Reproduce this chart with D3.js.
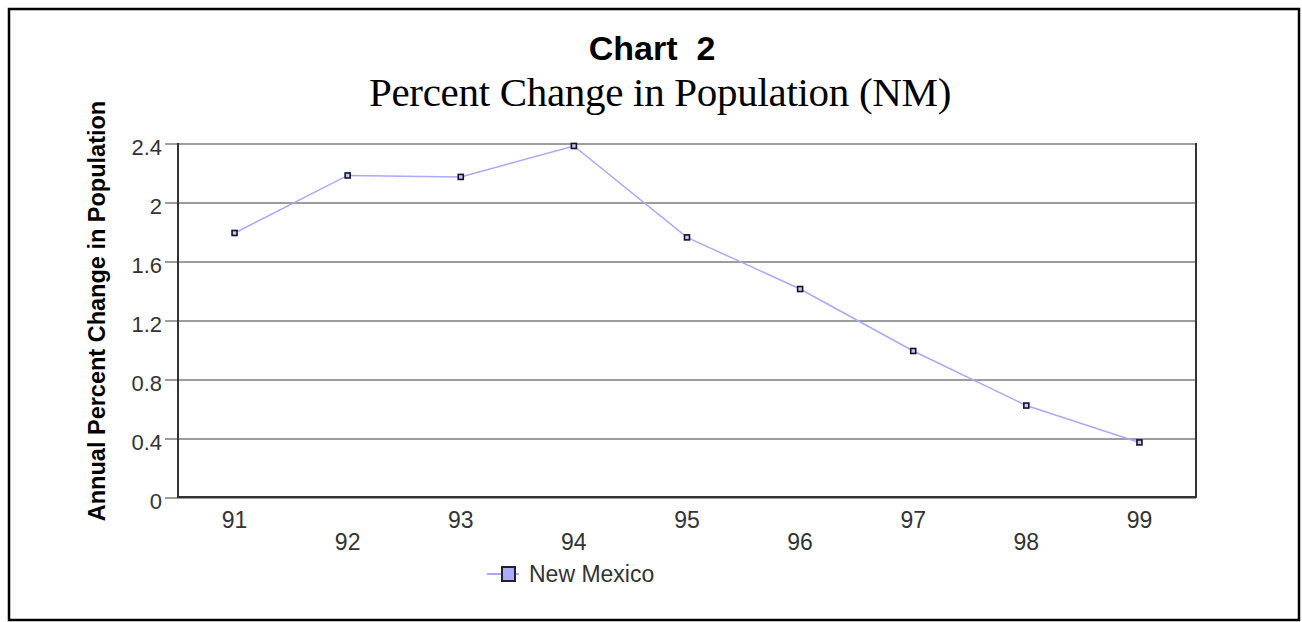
<!DOCTYPE html>
<meta charset="utf-8">
<style>
body { margin: 0; background: #fff; }
.grid line { stroke: #9c9c9c; stroke-width: 2px; shape-rendering: crispEdges; }
.grid path { display: none; }
.grid text { fill: #333; font: 22px "Liberation Sans", Arial, sans-serif; }
.frame { fill: none; stroke: #333; stroke-width: 2px; shape-rendering: crispEdges; }
.line { fill: none; stroke: #a8a8ff; stroke-width: 1.5px; }
.xlab { fill: #333; font: 23px "Liberation Sans", Arial, sans-serif; text-anchor: middle; }
</style>
<body>
<div id="plotHere"></div>
<script src="https://cdn.jsdelivr.net/npm/d3@7"></script>
<script>
// chart texts
const title = "Chart  2";
const subtitle = "Percent Change in Population (NM)";
const ylabel = "Annual Percent Change in Population";
const seriesName = "New Mexico";

// data
const years = ["91", "92", "93", "94", "95", "96", "97", "98", "99"];
const pctChange = [1.79, 2.18, 2.17, 2.38, 1.76, 1.41, 0.99, 0.62, 0.37];
const yTicks = [0, 0.4, 0.8, 1.2, 1.6, 2, 2.4];

// plot box
var W = 1302, H = 622;
var plot = {left: 178, right: 1196, top: 143, bottom: 497};

var svg = d3.select("#plotHere").append("svg")
    .attr("width", W)
    .attr("height", H);

// outer border
svg.append("rect")
    .attr("x", 9).attr("y", 9)
    .attr("width", 1290).attr("height", 611)
    .attr("fill", "none")
    .attr("stroke", "#000")
    .attr("stroke-width", 2.5);

var x = d3.scalePoint().domain(years).range([plot.left, plot.right]).padding(0.5);
var y = d3.scaleLinear().domain([0, 2.4]).range([plot.bottom, plot.top]);

//---------------- titles ----------------//
svg.append("text")
    .attr("x", 652).attr("y", 60)
    .attr("text-anchor", "middle")
    .style("font", "bold 34px 'Liberation Sans', Arial, sans-serif")
    .style("white-space", "pre")
    .text(title);

svg.append("text")
    .attr("x", 660).attr("y", 106)
    .attr("text-anchor", "middle")
    .style("font", "41px 'Liberation Serif', 'Times New Roman', serif")
    .style("letter-spacing", "-0.3px")
    .text(subtitle);

svg.append("text")
    .attr("transform", "rotate(-90)")
    .attr("x", -311).attr("y", 105)
    .attr("text-anchor", "middle")
    .style("font", "bold 23.5px 'Liberation Sans', Arial, sans-serif")
    .text(ylabel);

//---------------- grid + y axis ----------------//
svg.append("g")
    .attr("class", "grid")
    .attr("transform", "translate(165,0)")
    .call(d3.axisLeft(y).tickValues(yTicks).tickSize(-(plot.right - 165)).tickPadding(3)
        .tickFormat(d3.format("~g")))
  .selectAll("text")
    .attr("dy", "0.5em");

// left, bottom, right frame
svg.append("path")
    .attr("class", "frame")
    .attr("d", "M" + plot.left + "," + plot.top + "V" + plot.bottom + "H" + plot.right + "V" + plot.top);

//---------------- x labels (two rows) ----------------//
svg.selectAll(".xlab")
    .data(years)
  .enter().append("text")
    .attr("class", "xlab")
    .attr("x", function(d) { return x(d); })
    .attr("y", function(d, i) { return i % 2 === 0 ? 528 : 550; })
    .text(function(d) { return d; });

//---------------- line + markers ----------------//
var valueline = d3.line()
    .x(function(d, i) { return x(years[i]); })
    .y(function(d) { return y(d); });

svg.append("path")
    .datum(pctChange)
    .attr("class", "line")
    .attr("d", valueline);

svg.selectAll(".pt")
    .data(pctChange)
  .enter().append("rect")
    .attr("class", "pt")
    .attr("x", function(d, i) { return x(years[i]) - 2.5; })
    .attr("y", function(d) { return y(d) - 2.5; })
    .attr("width", 5).attr("height", 5)
    .attr("fill", "#c8c8e8")
    .attr("stroke", "#111130")
    .attr("stroke-width", 1.6);

//---------------- legend ----------------//
var lg = svg.append("g").attr("transform", "translate(487,574)");
lg.append("line")
    .attr("x1", 0).attr("x2", 32).attr("y1", 0).attr("y2", 0)
    .attr("stroke", "#a8a8ff").attr("stroke-width", 2);
lg.append("rect")
    .attr("x", 15).attr("y", -7)
    .attr("width", 13).attr("height", 14)
    .attr("fill", "#aaaaff")
    .attr("stroke", "#222").attr("stroke-width", 2);
lg.append("text")
    .attr("x", 42).attr("y", 8)
    .attr("fill", "#333")
    .style("font", "23px 'Liberation Sans', Arial, sans-serif")
    .text(seriesName);
</script>
</body>
